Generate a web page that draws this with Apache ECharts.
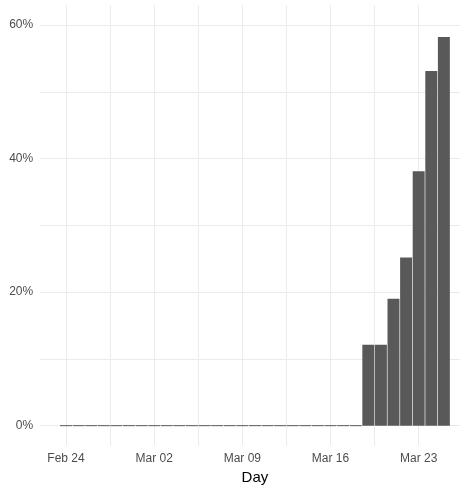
<!DOCTYPE html>
<html>
<head>
<meta charset="utf-8">
<script src="https://cdn.jsdelivr.net/npm/echarts@6/dist/echarts.min.js"></script>
<style>
  html, body { margin: 0; padding: 0; background: #ffffff; }
  #chart { width: 460px; height: 487px; }
</style>
</head>
<body>
<div id="chart"></div>
<script>
// Daily share (%), Feb 24 – Mar 25
const days = [
  'Feb 24', 'Feb 25', 'Feb 26', 'Feb 27', 'Feb 28', 'Feb 29',
  'Mar 01', 'Mar 02', 'Mar 03', 'Mar 04', 'Mar 05', 'Mar 06', 'Mar 07', 'Mar 08',
  'Mar 09', 'Mar 10', 'Mar 11', 'Mar 12', 'Mar 13', 'Mar 14', 'Mar 15',
  'Mar 16', 'Mar 17', 'Mar 18', 'Mar 19', 'Mar 20', 'Mar 21', 'Mar 22',
  'Mar 23', 'Mar 24', 'Mar 25'
];
const share = [
  0, 0, 0, 0, 0, 0,
  0, 0, 0, 0, 0, 0, 0, 0,
  0, 0, 0, 0, 0, 0, 0,
  0, 0, 0, 12.1, 12.1, 19.0, 25.2,
  38.1, 53.1, 58.2
];
const xTickLabels = ['Feb 24', 'Mar 02', 'Mar 09', 'Mar 16', 'Mar 23'];
const yTickValues = [0, 20, 40, 60];

// tick positions on the day-index scale, plus minor breaks halfway between
const xMajor = xTickLabels.map(l => days.indexOf(l));
const xMinor = xMajor.map(v => v + 3.5);
const xGrid = xMajor.concat(xMinor).sort((a, b) => a - b);
const yMinor = yTickValues.slice(0, -1).map(v => v + 10);
const yGrid = yTickValues.concat(yMinor).sort((a, b) => a - b);

const FONT = '"Liberation Sans", Arial, Helvetica, sans-serif';
const GRID_COLOR = '#EBEBEB';

const chart = echarts.init(document.getElementById('chart'), null, { renderer: 'canvas' });

chart.setOption({
  animation: false,
  backgroundColor: '#ffffff',
  grid: {
    left: 40.2, right: -9.7, top: 4.97, bottom: 41.3,
    containLabel: false,
    outerBoundsMode: 'none'
  },
  xAxis: {
    type: 'value',
    min: -2.05,
    max: 32.05,
    axisLine: { show: false },
    axisTick: { show: false, customValues: xGrid },
    axisLabel: {
      customValues: xMajor,
      formatter: v => days[Math.round(v)],
      color: '#4D4D4D',
      fontFamily: FONT,
      fontSize: 12,
      margin: 7
    },
    splitLine: { show: true, lineStyle: { color: GRID_COLOR, width: 1 } },
    name: 'Day',
    nameLocation: 'middle',
    nameGap: 25,
    nameTextStyle: { color: '#000000', fontFamily: FONT, fontSize: 15 }
  },
  yAxis: {
    type: 'value',
    min: -3,
    max: 63,
    axisLine: { show: false },
    axisTick: { show: false, customValues: yGrid },
    axisLabel: {
      customValues: yTickValues,
      formatter: v => v + '%',
      color: '#4D4D4D',
      fontFamily: FONT,
      fontSize: 12,
      margin: 7
    },
    splitLine: { show: true, lineStyle: { color: GRID_COLOR, width: 1 } }
  },
  series: [{
    type: 'custom',
    data: share.map((v, i) => [i, v]),
    encode: { x: 0, y: 1 },
    renderItem: function (params, api) {
      const d = api.value(0);
      const v = api.value(1);
      const half = 0.475;
      const base = api.coord([d - half, 0]);
      const top = api.coord([d + half, v]);
      let h = base[1] - top[1];
      let y = top[1];
      if (h < 1) { h = 1; y = base[1] - 0.5; }
      return {
        type: 'rect',
        shape: { x: base[0], y: y, width: top[0] - base[0], height: h },
        style: { fill: '#595959' }
      };
    }
  }]
});
</script>
</body>
</html>
